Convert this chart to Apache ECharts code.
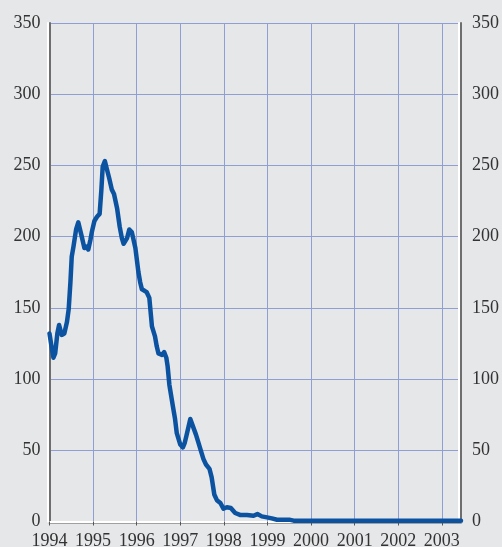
<!DOCTYPE html>
<html>
<head>
<meta charset="utf-8">
<script src="https://cdn.jsdelivr.net/npm/echarts@6/dist/echarts.min.js"></script>
<style>
html,body{margin:0;padding:0;background:#e6e7e9;}
#chart{width:502px;height:547px;}
</style>
</head>
<body>
<div id="chart"></div>
<script>
// Time in decimal years
var times = [
  1994.00,1994.04,1994.09,1994.13,1994.18,1994.22,1994.28,1994.34,1994.40,1994.44,
  1994.48,1994.51,1994.55,1994.61,1994.66,1994.68,1994.74,1994.80,1994.85,1994.89,
  1994.94,1994.97,1995.03,1995.09,1995.15,1995.19,1995.22,1995.27,1995.32,1995.37,
  1995.43,1995.48,1995.55,1995.61,1995.66,1995.70,1995.78,1995.83,1995.89,1995.97,
  1996.04,1996.08,1996.12,1996.18,1996.23,1996.29,1996.35,1996.42,1996.46,1996.50,
  1996.58,1996.63,1996.68,1996.71,1996.75,1996.83,1996.88,1996.92,1997.00,1997.06,
  1997.10,1997.14,1997.23,1997.27,1997.36,1997.42,1997.46,1997.53,1997.59,1997.67,
  1997.72,1997.78,1997.84,1997.92,1997.99,1998.07,1998.16,1998.26,1998.37,1998.53,
  1998.68,1998.77,1998.87,1998.99,1999.10,1999.22,1999.35,1999.50,1999.60,2000.00,
  2000.50,2001.00,2001.50,2002.00,2002.50,2003.00,2003.44
];
var values = [
  132,124,115,118,132,138,131,132,140,149,
  168,186,193,205,210,211,200,192,193,191,
  198,203,211,214,216,233,249,253,247,241,
  233,230,220,207,199,195,199,205,203,192,
  175,168,163,162,161,157,137,130,123,118,
  117,119,115,109,96,81,72,62,54,52,
  55,60,72,71,61,55,51,44,40,37,
  31,19,15,13,9,10,9.5,6,4.6,4.6,
  4,5.2,3.6,2.9,2.2,1.2,1.2,1.3,0.6,0.5,
  0.5,0.5,0.5,0.5,0.5,0.5,0.5
];
var yearLabels = ['1994','1995','1996','1997','1998','1999','2000','2001','2002','2003'];
var yTicks = [0,50,100,150,200,250,300,350];

var seriesData = times.map(function(t,i){return [t, values[i]];});
var chart = echarts.init(document.getElementById('chart'), null, {renderer:'canvas'});
var labelFont = {fontFamily:'Liberation Serif', fontSize:18, color:'#333'};
var yAxisBase = function(pos, margin, shadowX){
  return {
    type:'value', position:pos, min:yTicks[0], max:yTicks[yTicks.length-1], interval:50,
    axisLine:{show:true, lineStyle:{color:'#6e6e6e', width:2, shadowColor:'#ffffff', shadowOffsetX:shadowX, shadowBlur:0}},
    axisTick:{show:false},
    axisLabel:Object.assign({margin:margin, formatter:function(v){return yTicks.indexOf(v)>=0?String(v):'';}}, labelFont),
    splitLine:{show:pos==='left', lineStyle:{color:'#909ed4', width:1}}
  };
};
chart.setOption({
  backgroundColor:'#e6e7e9',
  animation:false,
  grid:{left:49.5, right:41, top:23, bottom:25.5, containLabel:false, outerBoundsMode:'none'},
  xAxis:{
    type:'value', min:1994, max:2003.44, interval:1,
    axisLine:{show:true, onZero:false, lineStyle:{color:'#ffffff', width:2, shadowColor:'#a0a0a0', shadowOffsetY:1, shadowBlur:0}},
    axisTick:{show:true, length:4, lineStyle:{color:'#555', width:1}},
    axisLabel:Object.assign({margin:11, showMaxLabel:false, formatter:function(v){
      var i = Math.round(v-1994);
      return (Math.abs(v-1994-i)<1e-6 && yearLabels[i]) ? yearLabels[i] : '';
    }}, labelFont),
    splitLine:{show:true, lineStyle:{color:'#909ed4', width:1}}
  },
  yAxis:[yAxisBase('left',9,-2), yAxisBase('right',11,-2)],
  series:[{
    type:'line', data:seriesData, showSymbol:false, smooth:false,
    lineStyle:{color:'#0b53a1', width:4.5, join:'round', cap:'round'},
    clip:false
  }]
});
</script>
</body>
</html>
